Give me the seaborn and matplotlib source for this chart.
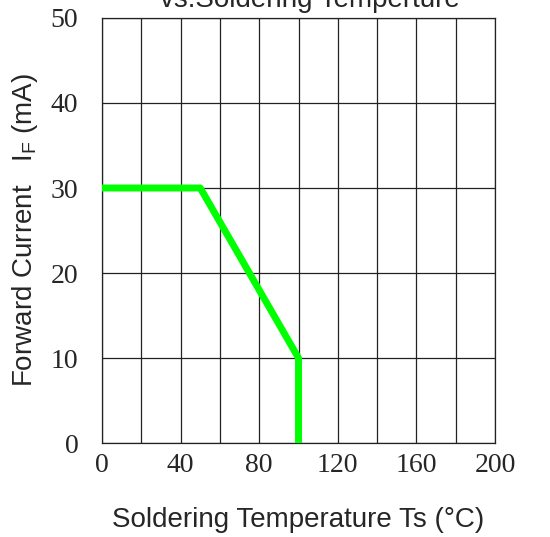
import numpy as np
import pandas as pd
import matplotlib
matplotlib.use("Agg")
import matplotlib.pyplot as plt
import seaborn as sns

# derating curve: forward current vs soldering temperature
temps = [0, 50, 100, 100]
currents = [30, 30, 10, 0]

x_ticks = [0, 40, 80, 120, 160, 200]
y_ticks = [0, 10, 20, 30, 40, 50]

df = pd.DataFrame({"Ts": temps, "IF": currents})

sns.set_style("white")
plt.rcParams["font.family"] = ["Liberation Sans", "DejaVu Sans"]
plt.rcParams["mathtext.default"] = "regular"

fig = plt.figure(figsize=(5.5, 5.37), dpi=100)
ax = fig.add_axes([0.1855, 0.175, 0.9 - 0.1855, 0.9665 - 0.175])

sns.lineplot(data=df, x="Ts", y="IF", sort=False, estimator=None,
             color="#00ff00", linewidth=5, ax=ax, zorder=3)

ax.set_xlim(0, 200)
ax.set_ylim(0, 50)
ax.set_xticks(x_ticks)
ax.set_xticks(np.arange(0, 201, 20), minor=True)
ax.set_yticks(y_ticks)
ax.grid(which="both", color="#222222", linewidth=0.9)
ax.tick_params(which="both", length=0)
ax.tick_params(axis="x", pad=7)
ax.tick_params(axis="y", pad=17)
for lab in ax.get_xticklabels() + ax.get_yticklabels():
    lab.set_family("Liberation Serif")
    lab.set_fontsize(20)
for s in ax.spines.values():
    s.set_color("#222222")
    s.set_linewidth(0.9)

ax.set_xlabel("Soldering Temperature Ts (°C)", fontsize=20, labelpad=21)
ax.set_ylabel("Forward Current   I$_F$ (mA)", fontsize=20, labelpad=8)

fig.text(0.5636, 0.987, "vs.Soldering Temperture", fontsize=20,
         ha="center", va="baseline")

fig.savefig("out.png", dpi=100)
